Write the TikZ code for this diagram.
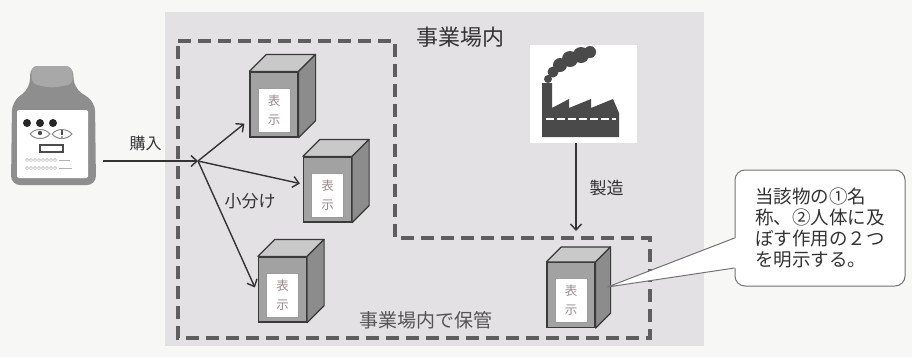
\documentclass[tikz,border=0pt]{standalone}
\usepackage{fontspec}
\newfontfamily\jpfont{Noto Sans CJK JP}
\usetikzlibrary{arrows.meta,calc}

\definecolor{paper}{HTML}{F7F7F6}
\definecolor{panel}{HTML}{E3E1E3}
\definecolor{ink}{HTML}{333333}
\definecolor{softink}{HTML}{555555}
\definecolor{dashcol}{HTML}{5E5E5E}
\definecolor{edge}{HTML}{3A3A3A}
\definecolor{cratefront}{HTML}{A2A2A2}
\definecolor{cratetop}{HTML}{C9C9C9}
\definecolor{crateside}{HTML}{8C8C8C}
\definecolor{tagink}{HTML}{9A8A8A}
\definecolor{bottlegray}{HTML}{8E8E8E}
\definecolor{bottleneck}{HTML}{A8A8A8}
\definecolor{factorygray}{HTML}{4A4A4A}

\tikzset{
  lbl/.style={text=ink, inner sep=0pt},
  zone/.style={draw=dashcol, line width=3.5pt, dash pattern=on 13pt off 7pt},
  flow/.style={draw=ink, line width=1.4pt,
    -{Straight Barb[length=6pt,width=11pt,line width=1.4pt]}},
  crateface/.style={draw=edge, fill=cratefront, line width=1.2pt,
    minimum width=48pt, minimum height=65pt, inner sep=0pt},
  cratetopface/.style={draw=edge, fill=cratetop, line width=1.2pt, line join=round},
  cratesideface/.style={draw=edge, fill=crateside, line width=1.2pt, line join=round},
  tag/.style={fill=white, draw=edge!50, line width=0.5pt,
    minimum width=32pt, minimum height=44pt, inner sep=0pt,
    font=\jpfont\fontsize{12.5}{19}\selectfont, text=tagink, align=center},
  note/.style={draw=black!55, fill=white, line width=1pt, rounded corners=10pt,
    minimum width=170pt, minimum height=116pt, inner sep=0pt,
    text=ink, align=left, font=\jpfont\fontsize{18.5}{21}\selectfont},
}

% a labelled crate: name, centre of the front face, depth of the box
\newcommand\crate[4]{%
  \node[crateface] (#1) at (#2,#3) {};
  \filldraw[cratetopface] (#1.north west) -- ++(#4,-#4)
     -- ($(#1.north east)+(#4,-#4)$) -- (#1.north east) -- cycle;
  \filldraw[cratesideface] (#1.north east) -- ++(#4,-#4)
     -- ($(#1.south east)+(#4,-#4)$) -- (#1.south east) -- cycle;
  \node[tag] (#1-tag) at ($(#1.center)+(0,5.5)$) {表\\示};
}

\begin{document}
\begin{tikzpicture}[x=1pt,y=-1pt]
\useasboundingbox (0,0) rectangle (912,357);
\fill[paper] (0,0) rectangle (912,357);

% premises
\fill[panel] (165,12) rectangle (704,346);
\draw[zone] (178,41) -- (395,41) -- (395,238) -- (650,238) -- (650,338) -- (178,338) -- cycle;
\node[lbl, font=\jpfont\fontsize{22}{24}\selectfont] (site) at (460,37) {事業場内};
\node[lbl, text=softink, font=\jpfont\fontsize{19}{21}\selectfont] (keep) at (426,320) {事業場内で保管};

% purchased bottle
\node[minimum width=86pt, minimum height=120pt, inner sep=0pt] (bottle) at (53.5,126) {};
\fill[bottlegray, rounded corners=9pt]
  (30,66) -- (73,66) -- (74,88) -- (95,102) -- (96,185) -- (11,185) -- (12,102) -- (30,88) -- cycle;
\fill[bottleneck, rounded corners=6pt] (31,66) -- (72,66) -- (73,84) -- (52,88) -- (32,84) -- cycle;
\fill[white, rounded corners=2pt] (17,110) rectangle (88,178);
\foreach \cx in {27,40,53} \fill[black!85] (\cx,123) circle (4);
\foreach \cx in {40,62} {
  \draw[black!45, line width=1pt] (\cx-10,134) .. controls (\cx-5,128) and (\cx+5,128) .. (\cx+10,134)
     .. controls (\cx+5,140) and (\cx-5,140) .. (\cx-10,134);
}
\fill[black!70] (40,133) circle (2.2);
\fill[black!70] (61.2,130) rectangle (62.8,135);
\fill[black!70] (62,137) circle (0.9);
\draw[black!70, line width=1.2pt] (40,145) rectangle (63,152);
\foreach \cx in {27,31,35,39,43,47,51,55} {
  \draw[black!30, line width=0.5pt] (\cx,160) circle (1.6);
  \draw[black!30, line width=0.5pt] (\cx,168) circle (1.6);
}
\draw[black!30, line width=0.6pt] (59,160) -- (70,160);
\draw[black!30, line width=0.6pt] (59,168) -- (72,168);

% purchase and split into small containers
\coordinate (buystart) at (103,161);
\coordinate (split) at (198,161);
\draw[flow] (buystart) -- (split);
\node[lbl, font=\jpfont\fontsize{16}{18}\selectfont] (buy) at (145.5,143) {購入};

\crate{c1}{274}{104.5}{17}
\crate{c2}{327.5}{189.5}{17}
\crate{c3}{282.5}{289.5}{17}

\draw[flow] (split) -- ($(c1.south west)+(-5,-14)$);
\draw[flow] (split) -- ($(c2.west)+(-3,-6)$);
\draw[flow] (split) -- ($(c3.west)+(-3,-2)$);
\node[lbl, font=\jpfont\fontsize{17}{19}\selectfont] (divide) at (250,201) {小分け};

% factory
\node[fill=white, minimum width=107pt, minimum height=98pt, inner sep=0pt] (factory) at (583.5,94) {};
\fill[factorygray]
  (542,137) -- (542,83) -- (552,83) -- (552,108) -- (569,99) -- (569,108)
  -- (591,99) -- (591,108) -- (613,99) -- (619,113) -- (619,137) -- cycle;
\draw[white, line width=2.5pt, dash pattern=on 8pt off 3pt] (546,119) -- (616,119);
\fill[factorygray]
  (548,79) circle (4) (553,72) circle (5.5) (560,65) circle (7)
  (570,59) circle (8) (581,55) circle (8) (590,52) circle (6);

\coordinate (inlet) at (576,231);
\draw[flow] ([xshift=-7.5pt]factory.south) -- (inlet);
\node[lbl, font=\jpfont\fontsize{17}{19}\selectfont] (make) at (606.5,188) {製造};

\crate{c4}{571}{295}{15}

% callout
\node[note] (note) at (820,228) {当該物の①名\\称、②人体に及\\ぼす作用の２つ\\を明示する。};
\coordinate (tip) at ($(c4.east)+(12,-8)$);
\fill[white] ($(note.west)+(2,10)$) -- (tip) -- ($(note.west)+(2,40)$) -- cycle;
\draw[black!55, line width=1pt, line join=round]
  ($(note.west)+(0,10)$) -- (tip) -- ($(note.west)+(0,40)$);
\end{tikzpicture}
\end{document}
